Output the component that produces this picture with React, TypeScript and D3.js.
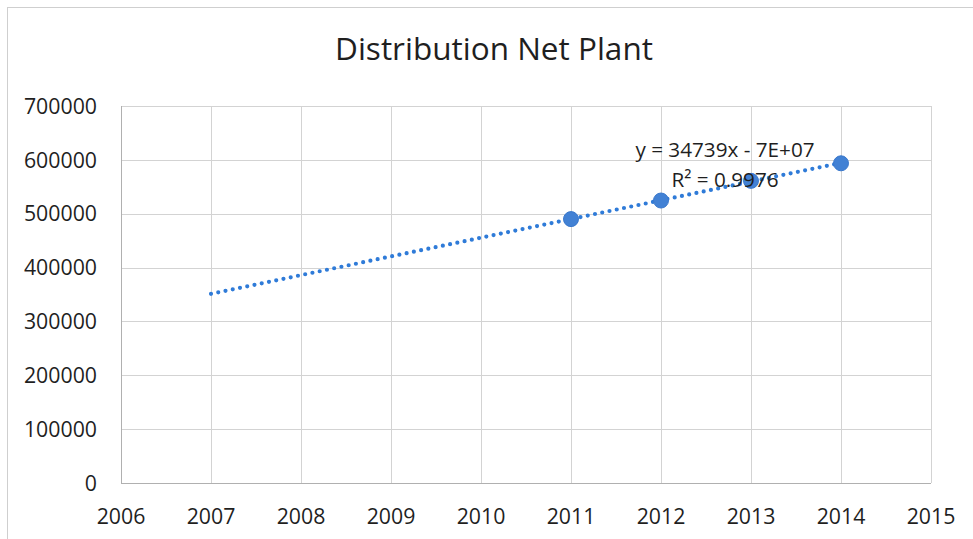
import React from "react";
import * as d3 from "d3";

// Distribution net plant by year
const years = [2011, 2012, 2013, 2014];
const netPlant = [490000, 524500, 561000, 593600];

const xTicks = [2006, 2007, 2008, 2009, 2010, 2011, 2012, 2013, 2014, 2015];
const yTicks = [0, 100000, 200000, 300000, 400000, 500000, 600000, 700000];

// Linear trend shown on the chart, projected back to 2007
const trendSlope = 34739;
const trendRange = [2007, 2014];
const trendEquation = "y = 34739x - 7E+07";
const trendR2 = "R² = 0.9976";

const title = "Distribution Net Plant";

const W = 973;
const H = 539;
const FONT = "'Open Sans', 'Noto Sans', sans-serif";
const INK = "#1f1f1f";

export default function App() {
  const x = d3.scaleLinear().domain([2006, 2015]).range([121, 931]);
  const y = d3.scaleLinear().domain([0, 700000]).range([483, 106]);

  const meanX = d3.mean(years) as number;
  const meanY = d3.mean(netPlant) as number;
  const trend = (yr: number) => meanY + trendSlope * (yr - meanX);

  const trendLine = d3
    .line<number>()
    .x((d) => x(d))
    .y((d) => y(trend(d)));

  const pts = years.map((yr, i) => ({ yr, v: netPlant[i] }));

  return (
    <svg
      width={W}
      height={H}
      style={{ position: "absolute", left: 0, top: 0, background: "#fff" }}
      fontFamily={FONT}
    >
      {/* chart frame */}
      <line x1={7.5} y1={7} x2={7.5} y2={H} stroke="#cfcfcf" strokeWidth={1} />
      <line x1={7} y1={7.5} x2={W} y2={7.5} stroke="#cfcfcf" strokeWidth={1} />

      <text x={494} y={60} textAnchor="middle" fontSize={31.5} fill={INK}>
        {title}
      </text>

      {/* gridlines */}
      {yTicks.map((t) => (
        <line
          key={"h" + t}
          x1={x(2006)}
          x2={x(2015)}
          y1={Math.round(y(t)) + 0.5}
          y2={Math.round(y(t)) + 0.5}
          stroke={t === 0 ? "#b0b0b0" : "#d3d3d3"}
          strokeWidth={1}
        />
      ))}
      {xTicks.map((t) => (
        <line
          key={"v" + t}
          x1={Math.round(x(t)) + 0.5}
          x2={Math.round(x(t)) + 0.5}
          y1={y(700000)}
          y2={y(0)}
          stroke={t === 2006 ? "#b0b0b0" : "#d3d3d3"}
          strokeWidth={1}
        />
      ))}

      {/* tick labels */}
      {yTicks.map((t) => (
        <text
          key={"yl" + t}
          x={97}
          y={y(t)}
          dy="0.36em"
          textAnchor="end"
          fontSize={21.3}
          fill={INK}
        >
          {t}
        </text>
      ))}
      {xTicks.map((t) => (
        <text
          key={"xl" + t}
          x={x(t)}
          y={524}
          textAnchor="middle"
          fontSize={21.3}
          fill={INK}
        >
          {t}
        </text>
      ))}

      {/* trendline */}
      <path
        d={trendLine(trendRange) as string}
        fill="none"
        stroke="#2f7bd8"
        strokeWidth={4.2}
        strokeLinecap="round"
        strokeDasharray="0 7.4"
      />

      {/* data points */}
      {pts.map((p) => (
        <circle key={p.yr} cx={x(p.yr)} cy={y(p.v)} r={7.5} fill="#4281d4" stroke="#3a78cc" strokeWidth={1} />
      ))}

      {/* trend equation */}
      <text x={725} y={157} textAnchor="middle" fontSize={20.7} fill={INK}>
        {trendEquation}
      </text>
      <text x={725} y={187} textAnchor="middle" fontSize={20.7} fill={INK}>
        {trendR2}
      </text>
    </svg>
  );
}
